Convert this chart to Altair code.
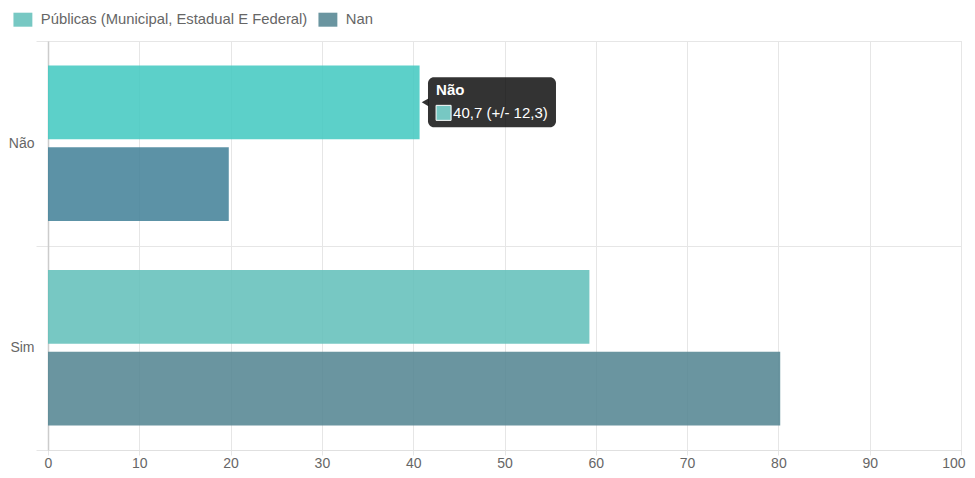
import altair as alt
import pandas as pd

# ---- data ----
categories = ["Não", "Não", "Sim", "Sim"]
series = [
    "Públicas (Municipal, Estadual E Federal)",
    "Nan",
    "Públicas (Municipal, Estadual E Federal)",
    "Nan",
]
values = [40.7, 19.8, 59.3, 80.2]
series_order = ["Públicas (Municipal, Estadual E Federal)", "Nan"]
series_colors = ["#5fbeb8", "#50828f"]
hover_colors = ["#40c8bf", "#3f7f96"]   # highlighted category (Não)
category_order = ["Não", "Sim"]
x_ticks = [0, 10, 20, 30, 40, 50, 60, 70, 80, 90, 100]

tooltip_category = ["Não"]
tooltip_series = ["Públicas (Municipal, Estadual E Federal)"]
tooltip_value = [40.7]
tooltip_label = ["40,7 (+/- 12,3)"]

# ---- layout ----
W, H = 913, 409
FONT = "Liberation Sans"
ppu = W / 100.0  # pixels per x unit

df = pd.DataFrame({"cat": categories, "series": series, "value": values})
base_df = df[df["cat"] != "Não"]
hl = df[df["cat"] == "Não"].copy()
hl["fill"] = [hover_colors[series_order.index(s)] for s in hl["series"]]

tip = pd.DataFrame({
    "cat": tooltip_category,
    "series": tooltip_series,
    "value": tooltip_value,
    "label": tooltip_label,
})
tip["box0"] = tip["value"] + 8.4 / ppu
tip["box1"] = tip["value"] + 136.4 / ppu

y_enc = alt.Y(
    "cat:N",
    sort=category_order,
    title=None,
    scale=alt.Scale(paddingInner=0, paddingOuter=0),
    axis=alt.Axis(
        tickBand="extent",
        grid=True,
        gridColor="#e6e6e6",
        tickColor="#e6e6e6",
        tickSize=12,
        labelPadding=2,
        labelFont=FONT,
        labelFontSize=14,
        labelColor="#666666",
        domainColor="#cccccc",
        domainWidth=1.5,
    ),
)
yoff_enc = alt.YOffset(
    "series:N",
    sort=series_order,
    scale=alt.Scale(paddingInner=0.1, paddingOuter=0.3),
)
x_enc = alt.X(
    "value:Q",
    title=None,
    scale=alt.Scale(domain=[0, 100], nice=False),
    axis=alt.Axis(
        values=x_ticks,
        grid=True,
        gridColor="#e6e6e6",
        tickColor="#e6e6e6",
        tickSize=5,
        labelPadding=1,
        labelFont=FONT,
        labelFontSize=14,
        labelColor="#666666",
        labelFlush=True,
        labelFlushOffset=4,
        domainColor="#e0e0e0",
    ),
)

legend = alt.Legend(
    title=None,
    orient="none",
    legendX=-32.5,
    legendY=-29,
    direction="horizontal",
    symbolType="M-1.35,-1L1.35,-1L1.35,1L-1.35,1Z",
    symbolSize=196,
    symbolOpacity=0.85,
    symbolStrokeWidth=0,
    labelFont=FONT,
    labelFontSize=14.8,
    labelColor="#666666",
    labelOffset=10.5,
    labelLimit=0,
    columnPadding=10,
)

bars = alt.Chart(base_df).mark_bar(opacity=0.85).encode(
    x=x_enc,
    y=y_enc,
    yOffset=yoff_enc,
    color=alt.Color(
        "series:N",
        sort=series_order,
        scale=alt.Scale(domain=series_order, range=series_colors),
        legend=legend,
    ),
)

hl_bars = alt.Chart(hl).mark_bar(opacity=0.85).encode(
    x="value:Q",
    y=alt.Y("cat:N", sort=category_order),
    yOffset=alt.YOffset("series:N", sort=series_order),
    fill=alt.Fill("fill:N", scale=None, legend=None),
)

tip_box = alt.Chart(tip).mark_bar(
    height=50, cornerRadius=6, color="black", opacity=0.8
).encode(
    x="box0:Q",
    x2="box1:Q",
    y=alt.Y("cat:N", sort=category_order),
    yOffset=alt.YOffset("series:N", sort=series_order),
)

tip_arrow = alt.Chart(tip).mark_point(
    shape="triangle-left", filled=True, color="black", opacity=0.8, size=60, xOffset=5.5
).encode(
    x="value:Q",
    y=alt.Y("cat:N", sort=category_order),
    yOffset=alt.YOffset("series:N", sort=series_order),
)

tip_title = alt.Chart(tip).mark_text(
    align="left", baseline="middle", dx=16.5, dy=-12,
    font=FONT, fontSize=15, fontWeight="bold", color="white",
).encode(
    x="value:Q",
    y=alt.Y("cat:N", sort=category_order),
    yOffset=alt.YOffset("series:N", sort=series_order),
    text="cat:N",
)

tip_swatch = alt.Chart(tip).mark_point(
    shape="M-1,0.4L1,0.4L1,2.4L-1,2.4Z", filled=True, size=225, fill="#77c8c3",
    stroke="white", strokeWidth=1, opacity=1, xOffset=24,
).encode(
    x="value:Q",
    y=alt.Y("cat:N", sort=category_order),
    yOffset=alt.YOffset("series:N", sort=series_order),
)

tip_text = alt.Chart(tip).mark_text(
    align="left", baseline="middle", dx=33.5, dy=10.5,
    font=FONT, fontSize=15, color="white",
).encode(
    x="value:Q",
    y=alt.Y("cat:N", sort=category_order),
    yOffset=alt.YOffset("series:N", sort=series_order),
    text="label:N",
)

chart = (
    alt.layer(bars, hl_bars, tip_box, tip_arrow, tip_title, tip_swatch, tip_text)
    .properties(
        width=W,
        height=H,
        autosize=alt.AutoSizeParams(type="none"),
        padding={"left": 40, "top": 33, "right": 6, "bottom": 20},
    )
    .configure_view(stroke="#e0e0e0")
    .configure(background="white")
)

chart.save("out.html", embed_options={"renderer": "svg", "actions": False})
